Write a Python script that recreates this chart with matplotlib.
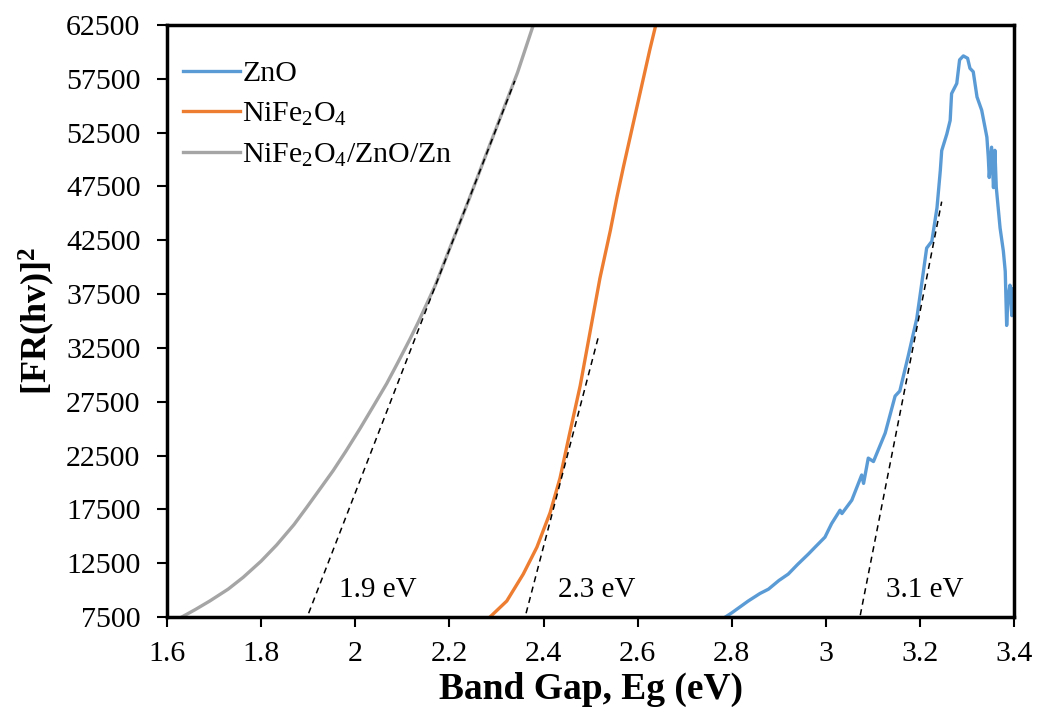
import matplotlib
matplotlib.use("Agg")
from matplotlib import pyplot as plt

plt.rcParams['font.family'] = ['Liberation Serif', 'DejaVu Serif']
plt.rcParams['mathtext.fontset'] = 'custom'
plt.rcParams['mathtext.rm'] = 'Liberation Serif'

# data
zno_x = [2.786, 2.800, 2.835, 2.860, 2.878, 2.900, 2.920, 2.940, 2.963, 2.977, 2.998, 3.012,
         3.030, 3.034, 3.055, 3.076, 3.080, 3.090, 3.101, 3.126, 3.147, 3.157, 3.175, 3.193,
         3.203, 3.214, 3.225, 3.236, 3.243, 3.246, 3.257, 3.264, 3.267, 3.278, 3.284, 3.292,
         3.301, 3.306, 3.313, 3.321, 3.331, 3.342, 3.345, 3.347, 3.352, 3.356, 3.359, 3.362,
         3.370, 3.377, 3.381, 3.384, 3.387, 3.391, 3.395, 3.398]
zno_y = [7500, 7900, 9000, 9700, 10100, 10900, 11500, 12400, 13370, 14000, 14930, 16180,
         17430, 17120, 18360, 20700, 19920, 22270, 21950, 24600, 28030, 28500, 31780, 35220,
         38300, 41770, 42400, 45520, 48950, 50820, 52380, 53630, 56120, 57060, 59250, 59620,
         59400, 58470, 58150, 55810, 54570, 52070, 50200, 48330, 51140, 47390, 50850, 47390,
         43650, 41490, 39610, 34590, 37200, 38330, 35500, 38000]

nfo_x = [2.286, 2.322, 2.357, 2.386, 2.414, 2.435, 2.456, 2.478, 2.499, 2.520, 2.542, 2.556,
         2.570, 2.598, 2.626, 2.639]
nfo_y = [7500, 9000, 11500, 14000, 17200, 20400, 24650, 29000, 34000, 39000, 43400, 46500,
         49348, 54783, 60217, 62572]

cmp_x = [1.631, 1.660, 1.691, 1.730, 1.762, 1.800, 1.833, 1.870, 1.897, 1.930, 1.953, 1.980,
         2.010, 2.040, 2.067, 2.090, 2.116, 2.134, 2.170, 2.203, 2.240, 2.274, 2.310, 2.345,
         2.379]
cmp_y = [7500, 8200, 9000, 10100, 11200, 12700, 14200, 16100, 17700, 19700, 21100, 22900,
         25000, 27200, 29200, 31100, 33300, 34900, 38300, 42000, 46100, 50000, 54100, 58100,
         62572]

# tangent lines (start, end)
tan_cmp_x = [1.901, 2.339]
tan_cmp_y = [7862, 57300]
tan_nfo_x = [2.363, 2.518]
tan_nfo_y = [7862, 33768]
tan_zno_x = [3.073, 3.246]
tan_zno_y = [7681, 46087]

gap_labels = ['1.9 eV', '2.3 eV', '3.1 eV']
gap_label_x = [2.047, 2.514, 3.211]

fig, ax = plt.subplots(figsize=(10.37, 7.11), dpi=100)
fig.subplots_adjust(left=0.161, right=0.978, top=0.965, bottom=0.132)

ax.plot(zno_x, zno_y, color='#5B9BD5', lw=2.4, label='ZnO')
ax.plot(nfo_x, nfo_y, color='#ED7D31', lw=2.4, label=r'$\mathregular{NiFe_2O_4}$')
ax.plot(cmp_x, cmp_y, color='#A5A5A5', lw=2.4, label=r'$\mathregular{NiFe_2O_4/ZnO/Zn}$')

for tx, ty in [(tan_cmp_x, tan_cmp_y), (tan_nfo_x, tan_nfo_y), (tan_zno_x, tan_zno_y)]:
    ax.plot(tx, ty, color='black', lw=1.1, ls=(0, (4, 3)))

for lab, lx in zip(gap_labels, gap_label_x):
    ax.text(lx, 10000, lab, fontsize=21, ha='center', va='center')

ax.set_xlim(1.6, 3.4)
ax.set_ylim(7500, 62500)
ax.set_xticks([1.6, 1.8, 2.0, 2.2, 2.4, 2.6, 2.8, 3.0, 3.2, 3.4])
ax.set_xticklabels(['1.6', '1.8', '2', '2.2', '2.4', '2.6', '2.8', '3', '3.2', '3.4'])
ax.set_yticks(range(7500, 62501, 5000))
ax.tick_params(axis='both', direction='out', length=7, width=1.5, labelsize=21.5)
ax.tick_params(axis='y', pad=12)
ax.tick_params(axis='x', pad=10)

for s in ax.spines.values():
    s.set_linewidth(2.5)

ax.set_xlabel('Band Gap, Eg (eV)', fontsize=27, fontweight='bold')
ax.set_ylabel(r'[FR(hv)]$\mathregular{^2}$', fontsize=26, fontweight='bold')
ax.xaxis.set_label_coords(0.5, -0.093)
ax.yaxis.set_label_coords(-0.13, 0.5)

ax.legend(loc='upper left', frameon=False, fontsize=21.5, handlelength=1.9,
          handletextpad=0.1, borderaxespad=0.3, labelspacing=0.45,
          bbox_to_anchor=(-0.006, 0.975))

plt.savefig('out.png', dpi=100)
